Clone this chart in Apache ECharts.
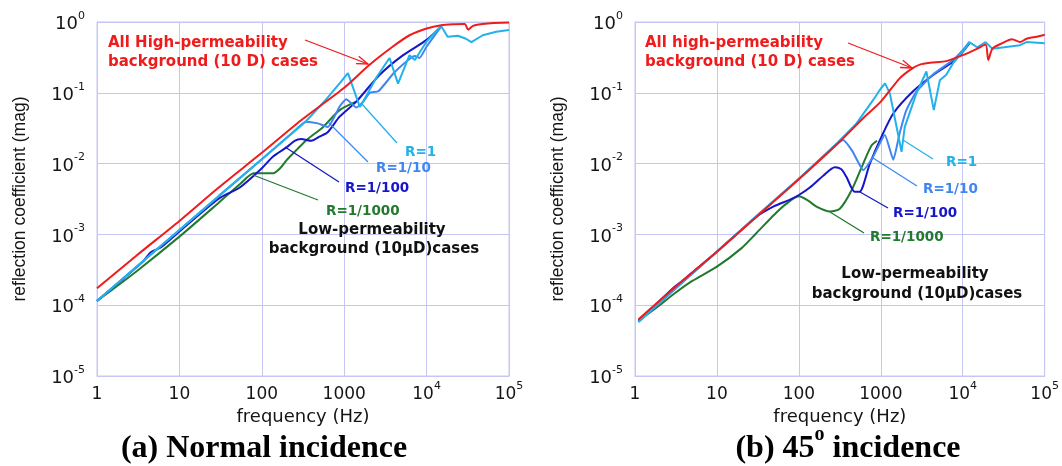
<!DOCTYPE html>
<html>
<head>
<meta charset="utf-8">
<title>reflection coefficient vs frequency</title>
<script src="https://cdn.jsdelivr.net/npm/echarts@6.0.0/dist/echarts.min.js"></script>
<style>
html, body { margin: 0; padding: 0; background: #ffffff; }
#chart { width: 1062px; height: 466px; }
</style>
</head>
<body>
<div id="chart"></div>
<script>
// (a) normal incidence : [frequency (Hz), reflection coefficient]
var highPermA = [[1, 1.73e-4], [3, 5.0e-4], [10, 1.55e-3], [30, 4.6e-3], [100, 0.0142], [300, 0.041], [1000, 0.118], [2000, 0.245], [3900, 0.45], [6200, 0.65], [10000, 0.81], [15000, 0.9], [22000, 0.93], [29000, 0.94], [32000, 0.78], [36500, 0.88], [45000, 0.93], [60000, 0.96], [100000, 0.98]]
var r1A = [[1, 1.15e-4], [3, 3.5e-4], [10, 1.15e-3], [30, 3.5e-3], [100, 0.0115], [340, 0.039], [600, 0.08], [900, 0.14], [1110, 0.19], [1550, 0.063], [1800, 0.085], [2500, 0.17], [3550, 0.31], [4500, 0.135], [6200, 0.34], [7200, 0.29], [10000, 0.53], [15000, 0.88], [18000, 0.62], [24000, 0.64], [30000, 0.58], [35000, 0.52], [48000, 0.65], [70000, 0.73], [100000, 0.77]]
var r10A = [[1, 1.15e-4], [10, 1.15e-3], [100, 0.0115], [250, 0.029], [340, 0.039], [480, 0.037], [635, 0.033], [880, 0.064], [1060, 0.081], [1400, 0.062], [1700, 0.075], [2040, 0.1], [2600, 0.105], [4000, 0.19], [6200, 0.3], [7200, 0.33], [8200, 0.31], [10000, 0.45], [15000, 0.86]]
var r100A = [[1, 1.15e-4], [3.5, 4.0e-4], [4.5, 5.6e-4], [6, 6.6e-4], [10, 1.1e-3], [30, 3.2e-3], [54, 4.6e-3], [100, 0.0086], [137, 0.0126], [200, 0.017], [250, 0.021], [300, 0.0222], [400, 0.021], [500, 0.024], [635, 0.028], [880, 0.046], [1400, 0.075], [2700, 0.18], [5000, 0.33], [10000, 0.56], [15000, 0.86]]
var r1000A = [[1, 1.15e-4], [3, 3.0e-4], [10, 9.3e-4], [30, 2.8e-3], [55, 5.2e-3], [80, 0.0073], [105, 0.0073], [137, 0.0073], [170, 0.0088], [200, 0.0112], [270, 0.016], [350, 0.0216], [556, 0.033], [880, 0.057], [1400, 0.075]]

// (b) 45 degree incidence
var highPermB = [[1.1, 6.3e-5], [3, 1.75e-4], [10, 5.7e-4], [30, 1.75e-3], [100, 6.0e-3], [316, 0.0205], [600, 0.043], [1000, 0.075], [1700, 0.16], [2400, 0.22], [3000, 0.25], [4000, 0.265], [6300, 0.28], [10000, 0.34], [15000, 0.42], [19000, 0.48], [20500, 0.29], [23000, 0.42], [30000, 0.5], [40000, 0.57], [50000, 0.52], [60000, 0.58], [80000, 0.62], [100000, 0.66]]
var r1B = [[1.1, 5.8e-5], [3, 1.7e-4], [10, 5.7e-4], [30, 1.8e-3], [100, 6.1e-3], [300, 0.02], [505, 0.037], [800, 0.078], [1000, 0.115], [1125, 0.136], [1290, 0.098], [1790, 0.0147], [1960, 0.033], [2720, 0.098], [3600, 0.2], [4430, 0.057], [5250, 0.15], [6300, 0.18], [7600, 0.26], [11000, 0.44], [12000, 0.52], [15000, 0.44], [19000, 0.52], [23000, 0.42], [32000, 0.44], [50000, 0.47], [60000, 0.52], [100000, 0.5]]
var r10B = [[1.1, 5.8e-5], [10, 5.7e-4], [100, 6.1e-3], [200, 0.0125], [347, 0.0216], [450, 0.015], [610, 0.0081], [805, 0.0125], [1120, 0.0254], [1420, 0.0113], [1700, 0.027], [2050, 0.057], [2720, 0.104], [4300, 0.18], [7600, 0.29], [10000, 0.4], [12000, 0.52]]
var r100B = [[1.1, 6e-5], [3, 1.8e-4], [3.5, 2.05e-4], [5, 2.9e-4], [10, 5.7e-4], [30, 1.75e-3], [50, 2.5e-3], [78, 3.1e-3], [100, 3.6e-3], [136, 4.6e-3], [200, 6.8e-3], [275, 8.9e-3], [330, 8.3e-3], [380, 6.5e-3], [480, 4.0e-3], [550, 4.0e-3], [735, 0.01], [1020, 0.024], [1420, 0.051], [2460, 0.104], [4350, 0.178], [7600, 0.275], [10000, 0.38], [12000, 0.5]]
var r1000B = [[1.1, 6e-5], [2, 1.0e-4], [3, 1.45e-4], [5, 2.2e-4], [10, 3.5e-4], [20, 6.4e-4], [30, 1.03e-3], [50, 1.9e-3], [70, 2.7e-3], [100, 3.45e-3], [130, 3.0e-3], [164, 2.46e-3], [240, 2.1e-3], [316, 2.3e-3], [440, 4.2e-3], [610, 0.01], [770, 0.018], [900, 0.021]]

var panelTitles = ['(a) Normal incidence', '(b) 45', 'o', ' incidence']
var xName = 'frequency (Hz)'
var yName = 'reflection coefficient (mag)'

var RED = '#ee1c1c'
var CYAN = '#22b2ea'
var MID = '#3f86f2'
var DARK = '#1616c8'
var GREEN = '#217a2e'
var GRID = '#c6c6f2'

var tickRich = {
  b: { fontFamily: 'DejaVu Sans', fontSize: 17, color: '#151515', padding: [5, 0, 0, 0], verticalAlign: 'bottom' },
  s: { fontFamily: 'DejaVu Sans', fontSize: 11, color: '#151515', verticalAlign: 'top' }
}

function exponentOf (v) {
  return Math.round(Math.log(v) / Math.LN10)
}

function xAxisOf (i) {
  return {
    type: 'log', logBase: 10, min: 1, max: 100000, splitNumber: 5, gridIndex: i,
    name: xName, nameLocation: 'middle', nameGap: 30,
    nameTextStyle: { fontFamily: 'DejaVu Sans', fontSize: 18, color: '#151515' },
    axisLine: { lineStyle: { color: GRID } },
    axisTick: { show: false },
    splitLine: { show: true, lineStyle: { color: GRID, width: 1 } },
    axisLabel: {
      margin: 5,
      formatter: function (v) {
        var e = exponentOf(v)
        if (e < 4) return '{b|' + Math.pow(10, e) + '}'
        return '{b|10}{s|' + e + '}'
      },
      rich: tickRich
    }
  }
}

function yAxisOf (i) {
  return {
    type: 'log', logBase: 10, min: 1e-5, max: 1, splitNumber: 5, gridIndex: i,
    name: yName, nameLocation: 'middle', nameGap: 68,
    nameTextStyle: { fontFamily: 'Liberation Sans', fontSize: 17.5, color: '#151515' },
    axisLine: { show: true, lineStyle: { color: GRID } },
    axisTick: { show: false },
    splitLine: { show: true, lineStyle: { color: GRID, width: 1 } },
    axisLabel: {
      margin: 12,
      formatter: function (v) {
        return '{b|10}{s|' + exponentOf(v) + '}'
      },
      rich: {
        b: { fontFamily: 'DejaVu Sans', fontSize: 18, color: '#151515', padding: [5, 0, 0, 0], verticalAlign: 'bottom' },
        s: { fontFamily: 'DejaVu Sans', fontSize: 11, color: '#151515', verticalAlign: 'top' }
      }
    }
  }
}

function curve (data, color, i, smooth, z) {
  return {
    type: 'line', data: data, xAxisIndex: i, yAxisIndex: i,
    symbol: 'none', smooth: smooth, z: z,
    lineStyle: { color: color, width: 2 },
    emphasis: { disabled: true }
  }
}

// annotation helpers
var boldFont = 'bold 15px "DejaVu Sans"'
var labelFont = 'bold 13.5px "DejaVu Sans"'

function txt (x, y, text, color, font, align) {
  return {
    type: 'text', x: x, y: y, z: 50,
    style: { text: text, fill: color, font: font, align: align || 'left', verticalAlign: 'middle' }
  }
}

function leader (x1, y1, x2, y2, color) {
  return {
    type: 'line', z: 40,
    shape: { x1: x1, y1: y1, x2: x2, y2: y2 },
    style: { stroke: color, lineWidth: 1.3 }
  }
}

function arrow (x1, y1, x2, y2, color) {
  var a = Math.atan2(y2 - y1, x2 - x1)
  var len = 12
  var spread = 0.33
  return [
    leader(x1, y1, x2, y2, color),
    {
      type: 'polyline', z: 40,
      shape: {
        points: [
          [x2 - len * Math.cos(a - spread), y2 - len * Math.sin(a - spread)],
          [x2, y2],
          [x2 - len * Math.cos(a + spread), y2 - len * Math.sin(a + spread)]
        ]
      },
      style: { stroke: color, lineWidth: 1.3, fill: null }
    }
  ]
}

var graphics = [
  // panel (a)
  txt(108, 43, 'All High-permeability', RED, boldFont),
  txt(108, 62, 'background (10 D) cases', RED, boldFont),
  txt(405, 152, 'R=1', CYAN, labelFont),
  txt(376, 168, 'R=1/10', MID, labelFont),
  txt(345, 188, 'R=1/100', DARK, labelFont),
  txt(326, 211, 'R=1/1000', GREEN, labelFont),
  txt(372, 230, 'Low-permeability', '#111111', boldFont, 'center'),
  txt(374, 249, 'background (10\u03bcD)cases', '#111111', boldFont, 'center'),
  leader(361, 103, 397, 143, CYAN),
  leader(328, 122, 368, 162, MID),
  leader(285, 147, 339, 182, DARK),
  leader(253, 175, 318, 200, GREEN),
  // panel (b)
  txt(645, 43, 'All high-permeability', RED, boldFont),
  txt(645, 62, 'background (10 D) cases', RED, boldFont),
  txt(946, 162, 'R=1', CYAN, labelFont),
  txt(923, 189, 'R=1/10', MID, labelFont),
  txt(893, 213, 'R=1/100', DARK, labelFont),
  txt(870, 237, 'R=1/1000', GREEN, labelFont),
  txt(915, 274, 'Low-permeability', '#111111', boldFont, 'center'),
  txt(917, 294, 'background (10\u03bcD)cases', '#111111', boldFont, 'center'),
  leader(903, 140, 933, 159, CYAN),
  leader(873, 158, 917, 186, MID),
  leader(860, 192, 888, 208, DARK),
  leader(830, 212, 864, 233, GREEN),
  // panel captions
  {
    type: 'text', x: 264, y: 449, z: 50,
    style: { text: panelTitles[0], fill: '#000000', font: 'bold 32px "Liberation Serif"', align: 'center', verticalAlign: 'middle' }
  },
  {
    type: 'text', x: 848, y: 445, z: 50,
    style: {
      text: '{t|' + panelTitles[1] + '}{s|' + panelTitles[2] + '}{t|' + panelTitles[3] + '}',
      align: 'center', verticalAlign: 'middle',
      rich: {
        t: { fontFamily: 'Liberation Serif', fontWeight: 'bold', fontSize: 32, fill: '#000000', padding: [8, 0, 0, 0], verticalAlign: 'bottom' },
        s: { fontFamily: 'Liberation Serif', fontWeight: 'bold', fontSize: 20, fill: '#000000', verticalAlign: 'top' }
      }
    }
  }
].concat(arrow(305, 40, 368, 64, RED), arrow(848, 43, 912, 68, RED))

var chart = echarts.init(document.getElementById('chart'), null, { renderer: 'canvas' })
chart.setOption({
  backgroundColor: '#ffffff',
  animation: false,
  grid: [
    { left: 97, top: 22, width: 412, height: 354, show: true, borderColor: GRID, borderWidth: 1 },
    { left: 635, top: 22, width: 410, height: 354, show: true, borderColor: GRID, borderWidth: 1 }
  ],
  xAxis: [xAxisOf(0), xAxisOf(1)],
  yAxis: [yAxisOf(0), yAxisOf(1)],
  series: [
    curve(r1000A, GREEN, 0, 0.25, 2),
    curve(r100A, DARK, 0, 0.25, 3),
    curve(r10A, MID, 0, 0.15, 4),
    curve(r1A, CYAN, 0, false, 5),
    curve(highPermA, RED, 0, 0.25, 6),
    curve(r1000B, GREEN, 1, 0.25, 2),
    curve(r100B, DARK, 1, 0.25, 3),
    curve(r10B, MID, 1, 0.15, 4),
    curve(r1B, CYAN, 1, false, 5),
    curve(highPermB, RED, 1, 0.25, 6)
  ],
  graphic: graphics
})
</script>
</body>
</html>
